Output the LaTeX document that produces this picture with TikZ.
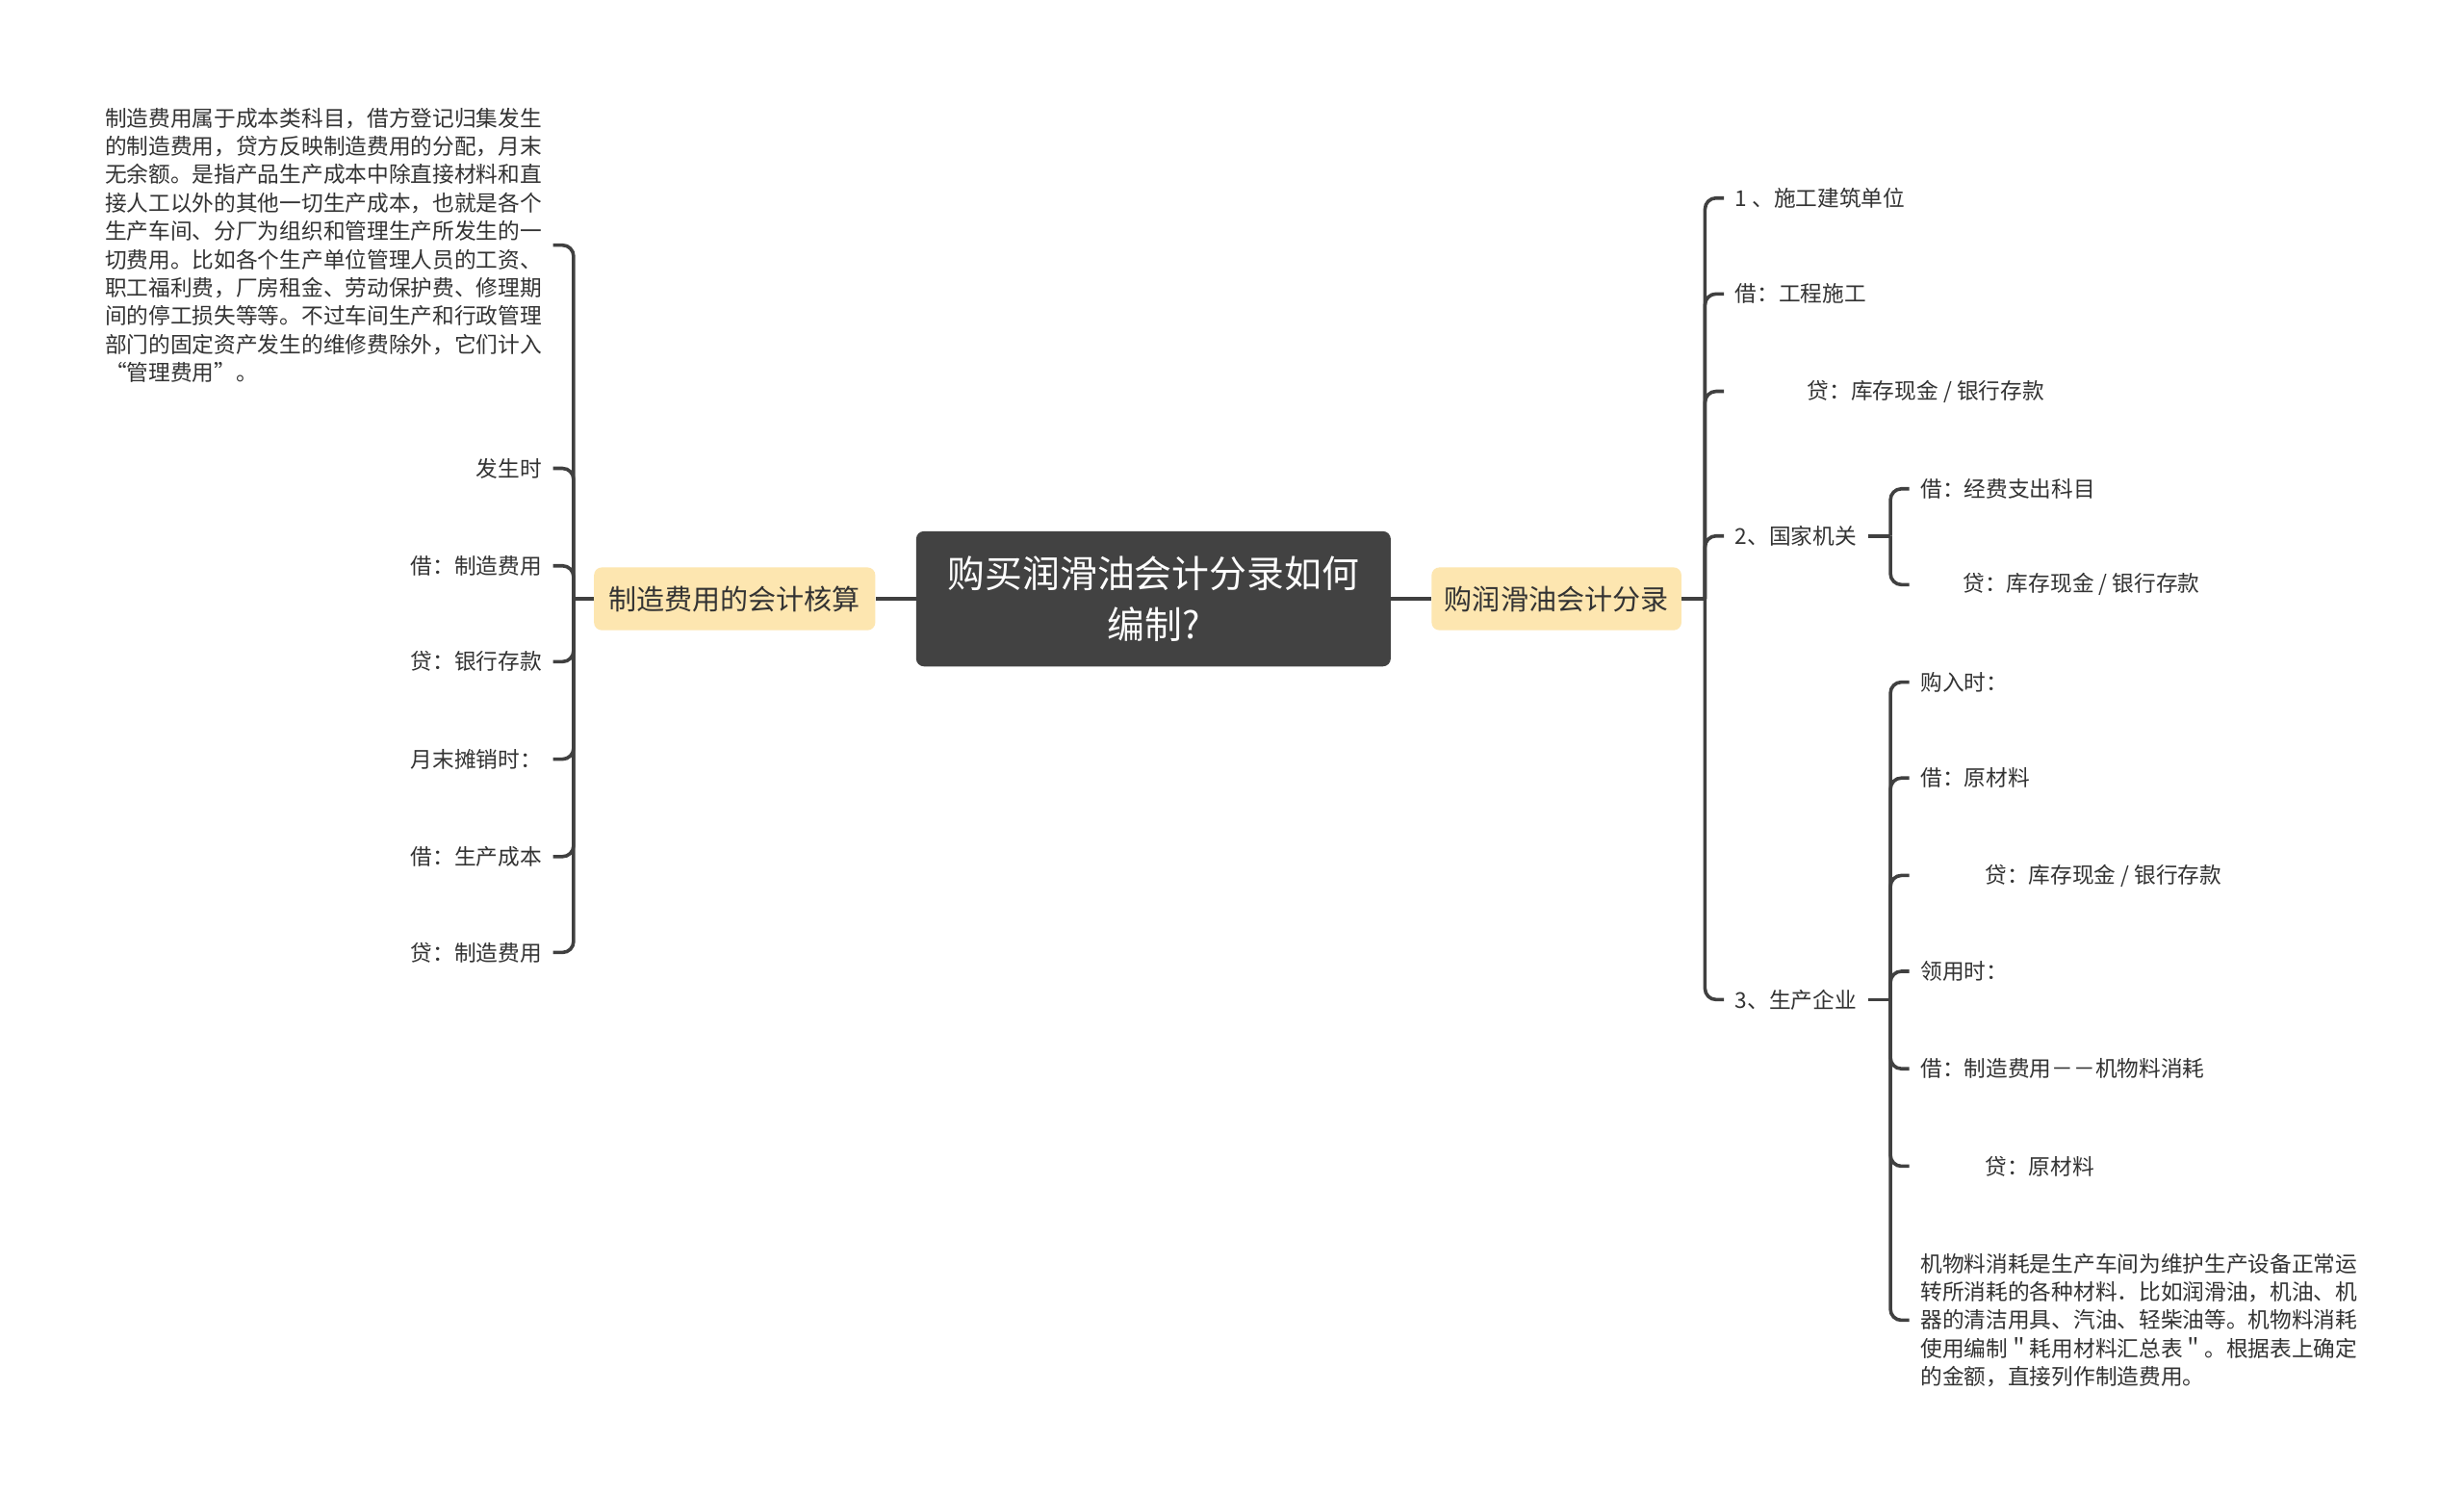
\documentclass[tikz,border=0pt]{standalone}
\usepackage{fontspec}
\setmainfont{Noto Sans CJK SC}
\definecolor{linec}{HTML}{404040}
\definecolor{centralc}{HTML}{424242}
\definecolor{subc}{HTML}{FDE6B0}
\definecolor{textc}{HTML}{333333}
\tikzset{
  conn/.style={draw=linec, line width=2.2pt, rounded corners=7pt},
  leaf/.style={text=textc, inner xsep=7pt, inner ysep=2pt, font=\fontsize{13.9}{18}\selectfont},
  para/.style={leaf, align=left},
  central/.style={fill=centralc, rounded corners=5pt, text=white, minimum width=302pt, minimum height=86pt, align=center, font=\fontsize{23.8}{32}\selectfont, inner sep=0pt},
  sub/.style={fill=subc, rounded corners=5pt, text=textc, minimum height=40pt, inner sep=0pt, font=\fontsize{17.8}{22}\selectfont},
}
\begin{document}
\begin{tikzpicture}[x=1pt, y=-1pt]
\useasboundingbox (0,0) rectangle (1568,951);
\fill[white] (0,0) rectangle (1568,951);
% central and main branches
\node[central] (c) at (734,381) {购买润滑油会计分录如何\\编制?};
\node[sub, minimum width=179pt] (L) at (467.5,381) {制造费用的会计核算};
\node[sub, minimum width=159pt] (R) at (990.5,381) {购润滑油会计分录};
\draw[conn] (c.west) -- (L.east);
\draw[conn] (c.east) -- (R.west);
% left branch
\coordinate (jL) at (365,381);
\draw[conn] (L.west) -- (jL);
\node[para, anchor=east] (l0) at (352,156) {制造费用属于成本类科目，借方登记归集发生\\的制造费用，贷方反映制造费用的分配，月末\\无余额。是指产品生产成本中除直接材料和直\\接人工以外的其他一切生产成本，也就是各个\\生产车间、分厂为组织和管理生产所发生的一\\切费用。比如各个生产单位管理人员的工资、\\职工福利费，厂房租金、劳动保护费、修理期\\间的停工损失等等。不过车间生产和行政管理\\部门的固定资产发生的维修费除外，它们计入\\“管理费用”。};
\node[leaf, anchor=east] (l1) at (352,298) {发生时};
\node[leaf, anchor=east] (l2) at (352,360) {借：制造费用};
\node[leaf, anchor=east] (l3) at (352,421) {贷：银行存款};
\node[leaf, anchor=east] (l4) at (352,483) {月末摊销时：};
\node[leaf, anchor=east] (l5) at (352,545) {借：生产成本};
\node[leaf, anchor=east] (l6) at (352,606) {贷：制造费用};
\foreach \n in {l0,l1,l2,l3,l4,l5,l6} \draw[conn] (jL) |- (\n.east);
% right branch
\coordinate (jR) at (1085,381);
\draw[conn] (R.east) -- (jR);
\node[leaf, anchor=west] (r1) at (1097,126) {1 、施工建筑单位};
\node[leaf, anchor=west] (r2) at (1097,187) {借：工程施工};
\node[leaf, anchor=west] (r3) at (1097,249) {\hspace{46pt}贷：库存现金 / 银行存款};
\node[leaf, anchor=west] (r4) at (1097,341) {2、国家机关};
\node[leaf, anchor=west] (r5) at (1097,636) {3、生产企业};
\foreach \n in {r1,r2,r3,r4,r5} \draw[conn] (jR) |- (\n.west);
% 国家机关
\coordinate (j2) at (1203,341);
\draw[conn] (r4.east) -- (j2);
\node[leaf, anchor=west] (s1) at (1215,311) {借：经费支出科目};
\node[leaf, anchor=west] (s2) at (1215,372) {\hspace{27pt}贷：库存现金 / 银行存款};
\foreach \n in {s1,s2} \draw[conn] (j2) |- (\n.west);
% 生产企业
\coordinate (j3) at (1203,636);
\draw[conn] (r5.east) -- (j3);
\node[leaf, anchor=west] (t1) at (1215,434) {购入时：};
\node[leaf, anchor=west] (t2) at (1215,495) {借：原材料};
\node[leaf, anchor=west] (t3) at (1215,557) {\hspace{41pt}贷：库存现金 / 银行存款};
\node[leaf, anchor=west] (t4) at (1215,618) {领用时：};
\node[leaf, anchor=west] (t5) at (1215,680) {借：制造费用－－机物料消耗};
\node[leaf, anchor=west] (t6) at (1215,742) {\hspace{41pt}贷：原材料};
\node[para, anchor=west] (t7) at (1215,840) {机物料消耗是生产车间为维护生产设备正常运\\转所消耗的各种材料．比如润滑油，机油、机\\器的清洁用具、汽油、轻柴油等。机物料消耗\\使用编制＂耗用材料汇总表＂。根据表上确定\\的金额，直接列作制造费用。};
\foreach \n in {t1,t2,t3,t4,t5,t6,t7} \draw[conn] (j3) |- (\n.west);
\end{tikzpicture}
\end{document}
